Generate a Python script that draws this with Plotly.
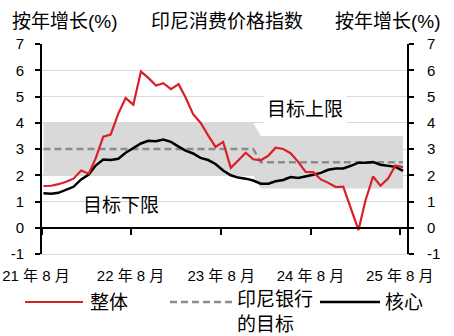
import pandas as pd
import plotly.graph_objects as go

# ---- data ----
months = pd.date_range("2021-08-01", "2025-08-01", freq="MS")

headline = [1.59, 1.60, 1.66, 1.75, 1.87,
            2.18, 2.06, 2.64, 3.47, 3.55, 4.35, 4.94, 4.69, 5.95, 5.71, 5.42, 5.51,
            5.28, 5.47, 4.97, 4.33, 4.00, 3.52, 3.08, 3.27, 2.28, 2.56, 2.86, 2.61,
            2.57, 2.75, 3.05, 3.00, 2.84, 2.51, 2.13, 2.12, 1.84, 1.71, 1.55, 1.57,
            0.76, -0.09, 1.03, 1.95, 1.60, 1.87, 2.37, 2.31]

core = [1.31, 1.30, 1.33, 1.44, 1.56,
        1.84, 2.03, 2.37, 2.60, 2.58, 2.63, 2.86, 3.04, 3.21, 3.31, 3.30, 3.36,
        3.27, 3.09, 2.94, 2.83, 2.66, 2.58, 2.43, 2.18, 2.00, 1.91, 1.87, 1.80,
        1.68, 1.68, 1.77, 1.82, 1.93, 1.90, 1.95, 2.02, 2.09, 2.21, 2.26, 2.26,
        2.36, 2.48, 2.48, 2.50, 2.40, 2.37, 2.32, 2.17]

target = [3.0] * 29 + [2.5] * 20
target_upper = [4.0] * 29 + [3.5] * 20
target_lower = [2.0] * 29 + [1.5] * 20

tick_dates = ["2021-07-27", "2022-07-21", "2023-07-24", "2024-07-21", "2025-07-19"]
tick_labels = ["21 年 8 月" + "\u00a0" * 3, "22 年 8 月", "23 年 8 月",
               "24 年 8 月", "25 年 8 月"]
y_ticks = [-1, 0, 1, 2, 3, 4, 5, 6, 7]
y_tick_labels = ["-1", "0", "1", "2", "3", "4", "5", "6", "7"]

RED = "#dc1e28"
GREY_DASH = "#8c8c8c"
BAND = "#d9d9d9"
FONT = "Liberation Sans, Arial, Noto Sans CJK SC, sans-serif"

fig = go.Figure()

fig.add_trace(go.Scatter(x=months, y=target_lower, mode="lines",
                         line=dict(width=0, color=BAND), hoverinfo="skip"))
fig.add_trace(go.Scatter(x=months, y=target_upper, mode="lines",
                         line=dict(width=0, color=BAND), fill="tonexty",
                         fillcolor=BAND, hoverinfo="skip"))
fig.add_trace(go.Scatter(x=months, y=target, mode="lines",
                         line=dict(color=GREY_DASH, width=2.5, dash="7px,4px")))
fig.add_trace(go.Scatter(x=months, y=core, mode="lines",
                         line=dict(color="black", width=2.5)))
fig.add_trace(go.Scatter(x=months, y=headline, mode="lines",
                         line=dict(color=RED, width=2.2)))
# helper traces so the overlay axes are drawn
fig.add_trace(go.Scatter(x=months[:1], y=[None], xaxis="x2", yaxis="y",
                         mode="lines", hoverinfo="skip"))
fig.add_trace(go.Scatter(x=months[:1], y=[None], xaxis="x", yaxis="y2",
                         mode="lines", hoverinfo="skip"))

xrange = ["2021-07-26", "2025-08-17"]

fig.update_layout(
    width=454, height=336,
    margin=dict(l=42, r=47, t=44, b=82, autoexpand=False),
    plot_bgcolor="white", paper_bgcolor="white",
    showlegend=False,
    font=dict(family=FONT, size=15, color="black"),
    xaxis=dict(type="date", range=xrange, tickmode="array",
               tickvals=tick_dates, ticktext=tick_labels, ticks="",
               showgrid=False, showline=True, linecolor=BAND, linewidth=1,
               ticklabelstandoff=8, tickfont=dict(size=15), fixedrange=True,
               automargin=False),
    xaxis2=dict(type="date", overlaying="x", matches="x", anchor="free",
                position=0.125, side="bottom", tickmode="array",
                tickvals=tick_dates, showticklabels=False, ticks="outside",
                ticklen=6, tickwidth=2, tickcolor="black", showgrid=False,
                showline=True, linecolor="black", linewidth=2, fixedrange=True,
                automargin=False),
    yaxis=dict(range=[-1, 7], tickmode="array", tickvals=y_ticks,
               ticktext=y_tick_labels,
               showgrid=True, gridcolor=BAND, gridwidth=1, zeroline=False,
               showline=True, linecolor="black", linewidth=2,
               ticks="outside", ticklen=5, tickwidth=2, tickcolor="black",
               ticklabelstandoff=8, fixedrange=True, automargin=False),
    yaxis2=dict(range=[-1, 7], overlaying="y", side="right", anchor="x",
                tickmode="array", tickvals=y_ticks, ticktext=y_tick_labels,
                showgrid=False,
                zeroline=False, showline=True, linecolor="black", linewidth=2,
                ticks="outside", ticklen=5, tickwidth=2, tickcolor="black",
                ticklabelstandoff=10, fixedrange=True, automargin=False),
)

def px2paper(px, py):
    return (px - 42) / 365, (254 - py) / 210

big = dict(family=FONT, size=19, color="black")

ann = []
x, y = px2paper(10, 22)
ann.append(dict(x=x, y=y, text="按年增长(%)", xanchor="left", yanchor="middle"))
x, y = px2paper(227, 22)
ann.append(dict(x=x, y=y, text="印尼消费价格指数", xanchor="center", yanchor="middle"))
x, y = px2paper(443, 22)
ann.append(dict(x=x, y=y, text="按年增长(%)", xanchor="right", yanchor="middle"))
x, y = px2paper(263, 109)
ann.append(dict(x=x, y=y, text="目标上限", xanchor="left", yanchor="middle",
                bgcolor="white", borderpad=3))
x, y = px2paper(81, 205)
ann.append(dict(x=x, y=y, text="目标下限", xanchor="left", yanchor="middle"))
# legend texts
x, y = px2paper(88, 302)
ann.append(dict(x=x, y=y, text="整体", xanchor="left", yanchor="middle"))
x, y = px2paper(235, 312)
ann.append(dict(x=x, y=y, text="印尼银行<br>的目标", xanchor="left",
                yanchor="middle", align="left"))
x, y = px2paper(383, 302)
ann.append(dict(x=x, y=y, text="核心", xanchor="left", yanchor="middle"))

for a in ann:
    a.update(xref="paper", yref="paper", showarrow=False, font=big)
fig.update_layout(annotations=ann)

# legend samples
shapes = []
for (x0, x1, col, dash, w) in [(25, 83, RED, "solid", 2.2),
                                (170, 232, GREY_DASH, "7px,4px", 2.5),
                                (320, 380, "black", "solid", 2.5)]:
    a0, b0 = px2paper(x0, 302)
    a1, _ = px2paper(x1, 302)
    shapes.append(dict(type="line", xref="paper", yref="paper", x0=a0, x1=a1,
                       y0=b0, y1=b0, line=dict(color=col, width=w, dash=dash)))
fig.update_layout(shapes=shapes)

fig.write_html("out.html")
